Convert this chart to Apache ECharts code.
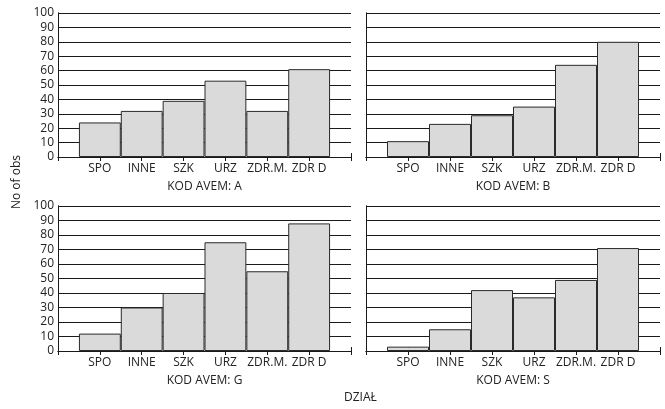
<!DOCTYPE html>
<html>
<head>
<meta charset="utf-8">
<script src="https://cdn.jsdelivr.net/npm/echarts@6/dist/echarts.min.js"></script>
<style>
  html, body { margin: 0; padding: 0; background: #fff; }
  #chart { width: 665px; height: 409px; }
</style>
</head>
<body>
<div id="chart"></div>
<script>
// Department categories (DZIAŁ) and observation counts per AVEM code
const categories = ['SPO', 'INNE', 'SZK', 'URZ', 'ZDR.M.', 'ZDR D'];
const panelCodes = ['A', 'B', 'G', 'S'];
const countsA = [24, 32, 39, 53, 32, 61];
const countsB = [11, 23, 29, 35, 64, 80];
const countsG = [12, 30, 40, 75, 55, 88];
const countsS = [3, 15, 42, 37, 49, 71];
const yTicks = [0, 10, 20, 30, 40, 50, 60, 70, 80, 90, 100];

const panelCounts = [countsA, countsB, countsG, countsS];

const FONT = '"Open Sans", "Noto Sans", sans-serif';
const TEXT = '#222';
const LINE = '#1a1a1a';

// grid rectangles for the 2x2 layout
const gridRects = [
  { left: 58,  top: 13,  width: 293, height: 144 },
  { left: 366, top: 13,  width: 294, height: 144 },
  { left: 58,  top: 206, width: 293, height: 145 },
  { left: 366, top: 206, width: 294, height: 145 }
];

const grids = [], xAxes = [], yAxes = [], series = [];

gridRects.forEach((r, i) => {
  grids.push(Object.assign({ containLabel: false }, r));
  const isLeft = (i % 2 === 0);

  // bottom axis: category names at positions 1..6 on a 0..7 scale
  xAxes.push({
    type: 'value', gridIndex: i, min: 0, max: 7, interval: 1,
    position: 'bottom',
    name: 'KOD AVEM: ' + panelCodes[i],
    nameLocation: 'middle', nameGap: 24,
    nameTextStyle: { color: TEXT, fontFamily: FONT, fontSize: 12 },
    axisLine: { show: true, lineStyle: { color: LINE, width: 1 } },
    axisTick: { show: true, inside: true, length: 4, lineStyle: { color: LINE } },
    axisLabel: {
      color: TEXT, fontFamily: FONT, fontSize: 12, margin: 6,
      formatter: v => (v >= 1 && v <= categories.length) ? categories[v - 1] : ''
    },
    splitLine: { show: false }
  });
  // top frame edge with inward ticks
  xAxes.push({
    type: 'value', gridIndex: i, min: 0, max: 7, interval: 1,
    position: 'top',
    axisLine: { show: true, lineStyle: { color: LINE, width: 1 } },
    axisTick: { show: true, inside: true, length: 4, lineStyle: { color: LINE } },
    axisLabel: { show: false },
    splitLine: { show: false }
  });

  yAxes.push({
    type: 'value', gridIndex: i, min: yTicks[0], max: yTicks[yTicks.length - 1],
    interval: yTicks[1] - yTicks[0],
    position: 'left',
    axisLine: { show: true, lineStyle: { color: LINE, width: 1 } },
    axisTick: { show: false },
    axisLabel: { show: isLeft, color: TEXT, fontFamily: FONT, fontSize: 12, margin: 4 },
    splitLine: { show: true, lineStyle: { color: LINE, width: 1 } }
  });
  yAxes.push({
    type: 'value', gridIndex: i, min: yTicks[0], max: yTicks[yTicks.length - 1],
    interval: yTicks[1] - yTicks[0],
    position: 'right',
    axisLine: { show: true, lineStyle: { color: LINE, width: 1 } },
    axisTick: { show: false },
    axisLabel: { show: false },
    splitLine: { show: false }
  });

  series.push({
    type: 'bar',
    xAxisIndex: i * 2,
    yAxisIndex: i * 2,
    barWidth: '100%',
    data: panelCounts[i].map((v, k) => [k + 1, v]),
    itemStyle: { color: '#dadada', borderColor: '#2a2a2a', borderWidth: 1 },
    silent: true
  });
});

const chart = echarts.init(document.getElementById('chart'), null, { renderer: 'canvas' });
chart.setOption({
  animation: false,
  grid: grids,
  xAxis: xAxes,
  yAxis: yAxes,
  series: series,
  graphic: [
    {
      type: 'text', left: 11, top: 155, rotation: Math.PI / 2,
      style: { text: 'No of obs', fill: TEXT, font: '12px ' + FONT }
    },
    {
      type: 'text', left: 344, top: 392,
      style: { text: 'DZIAŁ', fill: TEXT, font: '12px ' + FONT }
    }
  ]
});
</script>
</body>
</html>
